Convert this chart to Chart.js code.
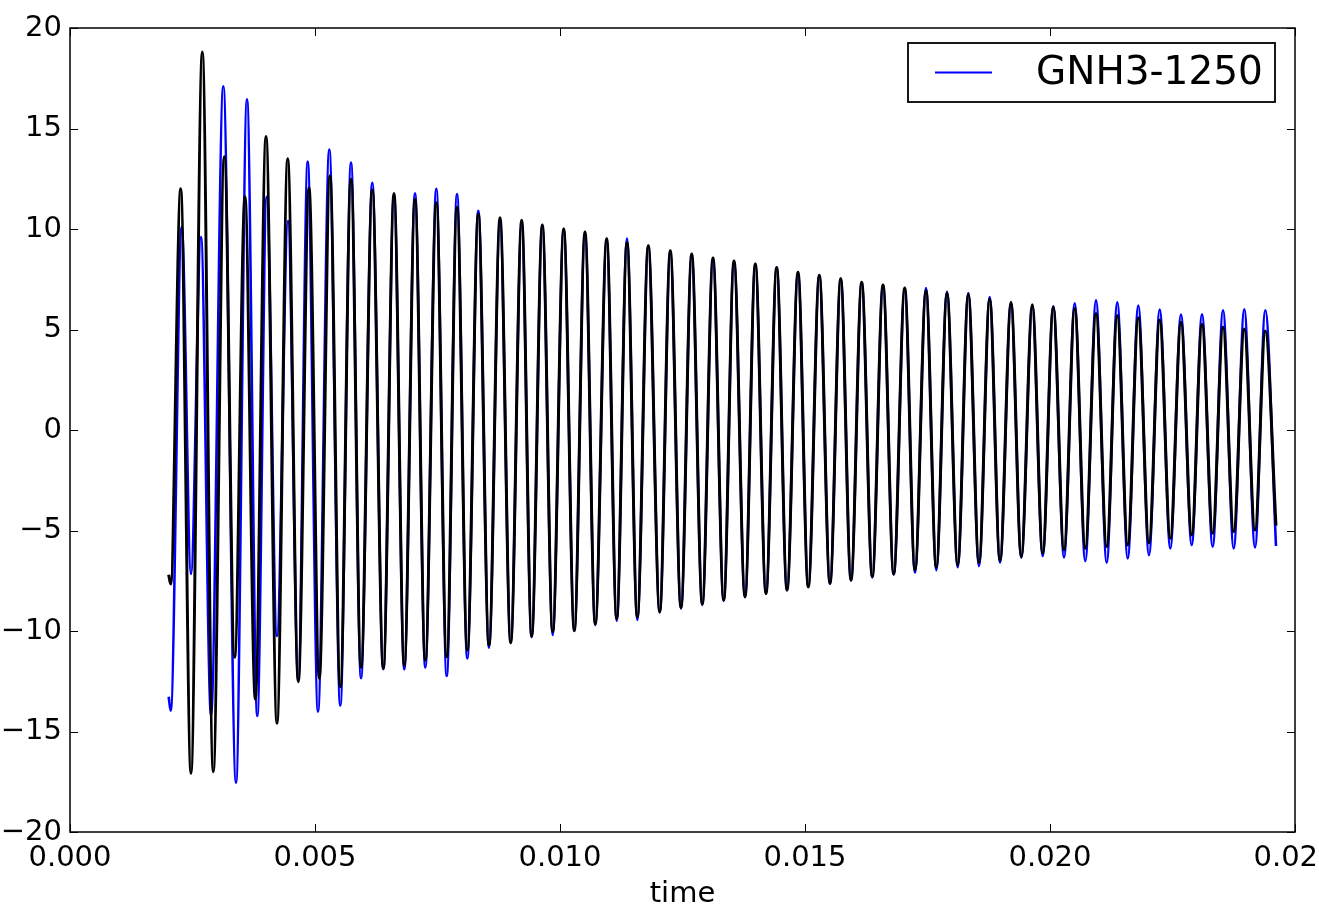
<!DOCTYPE html>
<html><head><meta charset="utf-8">
<script src="https://cdn.jsdelivr.net/npm/chart.js@4.4.1/dist/chart.umd.min.js"></script>
<style>html,body{margin:0;padding:0;background:#fff;overflow:hidden}#wrap{width:1319px;height:906px;position:relative}</style>
</head><body><div id="wrap"><canvas id="c" width="1319" height="906"></canvas></div>
<script>
const xTicks = [0, 0.005, 0.010, 0.015, 0.020, 0.025];
const yTicks = [-20, -15, -10, -5, 0, 5, 10, 15, 20];
const xTitle = 'time';
const seriesLabel = 'GNH3-1250';

const blueTime = [0.002014, 0.002055, 0.002280, 0.002469, 0.002673, 0.002878, 0.003129, 0.003388, 0.003612, 0.003822,
  0.004014, 0.004224, 0.004449, 0.004659, 0.004851, 0.005061, 0.005292, 0.005516, 0.005735, 0.005939,
  0.006169, 0.006394, 0.006612, 0.006822, 0.007041, 0.007251, 0.007476, 0.007688, 0.007898, 0.008108,
  0.008333, 0.008551, 0.008776, 0.008994, 0.009218, 0.009422, 0.009639, 0.009851, 0.010076, 0.010292,
  0.010510, 0.010720, 0.010953, 0.011157, 0.011367, 0.011578, 0.011802, 0.012035, 0.012251, 0.012469,
  0.012688, 0.012904, 0.013122, 0.013341, 0.013551, 0.013776, 0.013986, 0.014204, 0.014422, 0.014633,
  0.014857, 0.015067, 0.015292, 0.015510, 0.015729, 0.015939, 0.016157, 0.016373, 0.016592, 0.016810,
  0.017035, 0.017245, 0.017469, 0.017680, 0.017898, 0.018116, 0.018333, 0.018551, 0.018769, 0.018980,
  0.019204, 0.019414, 0.019639, 0.019851, 0.020067, 0.020286, 0.020504, 0.020720, 0.020939, 0.021157,
  0.021373, 0.021586, 0.021802, 0.022020, 0.022239, 0.022455, 0.022673, 0.022892, 0.023102, 0.023320,
  0.023531, 0.023749, 0.023965, 0.024184, 0.024394, 0.024612];
const blueValue = [-13.27, -13.96, 10.1, -7.16, 9.6, -14.18, 17.1, -17.55, 16.45, -14.23,
  11.6, -10.25, 10.4, -12.4, 13.35, -14.01, 13.95, -13.71, 13.3, -12.35,
  12.3, -11.9, 11.65, -11.9, 11.77, -11.81, 12.0, -12.24, 11.74, -11.36,
  10.9, -10.83, 10.38, -10.6, 10.3, -10.3, 10.2, -10.2, 10.0, -10.0,
  9.8, -9.7, 9.42, -9.49, 9.52, -9.45, 9.17, -9.08, 8.85, -8.88,
  8.65, -8.7, 8.48, -8.5, 8.41, -8.32, 8.26, -8.15, 8.1, -7.98,
  7.85, -7.82, 7.7, -7.66, 7.53, -7.5, 7.35, -7.33, 7.21, -7.2,
  6.98, -7.1, 7.06, -6.97, 6.88, -6.83, 6.81, -6.77, 6.62, -6.6,
  6.3, -6.35, 6.15, -6.27, 6.15, -6.34, 6.3, -6.52, 6.45, -6.6,
  6.35, -6.39, 6.19, -6.22, 5.99, -5.89, 5.74, -5.72, 5.76, -5.81,
  5.96, -5.89, 6.0, -5.84, 5.96, -5.77];

const blackTime = [0.002014, 0.002055, 0.002259, 0.002469, 0.002700, 0.002924, 0.003149, 0.003361, 0.003571, 0.003782,
  0.004000, 0.004224, 0.004443, 0.004659, 0.004878, 0.005088, 0.005306, 0.005516, 0.005735, 0.005939,
  0.006169, 0.006394, 0.006612, 0.006822, 0.007041, 0.007251, 0.007476, 0.007688, 0.007898, 0.008108,
  0.008333, 0.008551, 0.008776, 0.008994, 0.009218, 0.009422, 0.009639, 0.009851, 0.010076, 0.010292,
  0.010510, 0.010720, 0.010953, 0.011157, 0.011367, 0.011578, 0.011802, 0.012035, 0.012251, 0.012469,
  0.012688, 0.012904, 0.013122, 0.013341, 0.013551, 0.013776, 0.013986, 0.014204, 0.014422, 0.014633,
  0.014857, 0.015067, 0.015292, 0.015510, 0.015729, 0.015939, 0.016157, 0.016373, 0.016592, 0.016810,
  0.017035, 0.017245, 0.017469, 0.017680, 0.017898, 0.018116, 0.018333, 0.018551, 0.018769, 0.018980,
  0.019204, 0.019414, 0.019639, 0.019851, 0.020067, 0.020286, 0.020504, 0.020720, 0.020939, 0.021157,
  0.021373, 0.021586, 0.021802, 0.022020, 0.022239, 0.022455, 0.022673, 0.022892, 0.023102, 0.023320,
  0.023531, 0.023749, 0.023965, 0.024184, 0.024394, 0.024612];
const blackValue = [-7.2, -7.66, 12.0, -17.08, 18.8, -17.0, 13.6, -11.31, 11.6, -13.4,
  14.6, -14.59, 13.5, -12.52, 12.05, -12.35, 12.65, -12.77, 12.47, -11.8,
  11.94, -11.86, 11.77, -11.7, 11.47, -11.44, 11.3, -11.28, 11.08, -10.95,
  10.75, -10.7, 10.56, -10.58, 10.43, -10.25, 10.2, -10.03, 10.0, -9.98,
  9.85, -9.65, 9.52, -9.39, 9.32, -9.29, 9.17, -9.04, 8.92, -8.84,
  8.76, -8.66, 8.56, -8.46, 8.41, -8.29, 8.26, -8.13, 8.09, -7.96,
  7.85, -7.8, 7.7, -7.63, 7.53, -7.46, 7.35, -7.3, 7.21, -7.16,
  7.06, -6.97, 6.93, -6.83, 6.83, -6.72, 6.75, -6.6, 6.52, -6.5,
  6.35, -6.3, 6.23, -6.13, 6.12, -5.97, 6.04, -5.89, 5.8, -5.81,
  5.7, -5.72, 5.59, -5.61, 5.47, -5.39, 5.36, -5.22, 5.26, -5.14,
  5.12, -5.06, 5.02, -4.98, 4.93, -4.76];

const toPoints = (ts, vs) => ts.map((t, i) => ({ x: t, y: vs[i] }));
const FONT = 'DejaVu Sans';

const frameAndTicks = {
  id: 'frameAndTicks',
  afterDraw(chart) {
    const { ctx, chartArea: a, scales } = chart;
    const xs = scales.x, ys = scales.y;
    const L = 8;
    ctx.save();
    ctx.strokeStyle = '#000';
    ctx.lineWidth = 1;
    ctx.beginPath();
    xTicks.forEach(v => {
      const p = Math.round(xs.getPixelForValue(v)) + 0.5;
      ctx.moveTo(p, a.bottom); ctx.lineTo(p, a.bottom - L);
      ctx.moveTo(p, a.top); ctx.lineTo(p, a.top + L);
    });
    yTicks.forEach(v => {
      const p = Math.round(ys.getPixelForValue(v)) + 0.5;
      ctx.moveTo(a.left, p); ctx.lineTo(a.left + L, p);
      ctx.moveTo(a.right, p); ctx.lineTo(a.right - L, p);
    });
    ctx.stroke();
    ctx.lineWidth = 1.5;
    ctx.strokeRect(a.left, a.top, a.right - a.left, a.bottom - a.top);
    ctx.restore();
  }
};

const boxLegend = {
  id: 'boxLegend',
  afterDraw(chart) {
    const { ctx, chartArea: a } = chart;
    const ds = chart.data.datasets[0];
    const w = 367, h = 59;
    const right = a.right - 20, top = a.top + 15;
    const left = right - w;
    const cy = top + h / 2;
    ctx.save();
    ctx.fillStyle = '#fff';
    ctx.fillRect(left, top, w, h);
    ctx.strokeStyle = '#000';
    ctx.lineWidth = 1.8;
    ctx.strokeRect(left, top, w, h);
    ctx.strokeStyle = ds.borderColor;
    ctx.lineWidth = 2;
    ctx.beginPath();
    ctx.moveTo(left + 27, cy); ctx.lineTo(left + 84, cy);
    ctx.stroke();
    ctx.fillStyle = '#000';
    ctx.font = '39px "' + FONT + '"';
    ctx.textBaseline = 'middle';
    ctx.textAlign = 'left';
    ctx.fillText(ds.label, left + 128, cy + 1);
    ctx.restore();
  }
};

new Chart(document.getElementById('c'), {
  type: 'line',
  data: {
    datasets: [
      { label: seriesLabel, data: toPoints(blueTime, blueValue), borderColor: '#0000ff', borderWidth: 2.6,
        pointRadius: 0, fill: false, cubicInterpolationMode: 'monotone', order: 2 },
      { label: '', data: toPoints(blackTime, blackValue), borderColor: '#000000', borderWidth: 3,
        pointRadius: 0, fill: false, cubicInterpolationMode: 'monotone', order: 1 }
    ]
  },
  options: {
    responsive: false,
    devicePixelRatio: 1,
    animation: false,
    events: [],
    layout: { padding: { left: 0, right: 24, top: 28, bottom: 0 } },
    plugins: { legend: { display: false }, tooltip: { enabled: false }, title: { display: false } },
    scales: {
      x: {
        type: 'linear', min: xTicks[0], max: xTicks[xTicks.length - 1],
        afterBuildTicks: s => { s.ticks = xTicks.map(v => ({ value: v })); },
        ticks: { callback: v => Number(v).toFixed(3), color: '#000', font: { family: FONT, size: 29 },
                 padding: 9, maxRotation: 0, autoSkip: false },
        grid: { display: false, drawTicks: false },
        border: { display: false },
        title: { display: true, text: xTitle, color: '#000', font: { family: FONT, size: 29, lineHeight: 1 },
                 padding: { top: 0, bottom: -3 } },
        afterFit: s => { s.paddingLeft = 0; s.paddingRight = 0; s.height = 74; }
      },
      y: {
        type: 'linear', min: yTicks[0], max: yTicks[yTicks.length - 1],
        afterBuildTicks: s => { s.ticks = yTicks.map(v => ({ value: v })); },
        ticks: { callback: v => (v < 0 ? '\u2212' + Math.abs(v) : String(v)), color: '#000',
                 font: { family: FONT, size: 29 }, padding: 8, autoSkip: false },
        grid: { display: false, drawTicks: false },
        border: { display: false },
        afterFit: s => { s.paddingTop = 0; s.paddingBottom = 0; s.width = 70; }
      }
    }
  },
  plugins: [frameAndTicks, boxLegend]
});
</script>
</body></html>
